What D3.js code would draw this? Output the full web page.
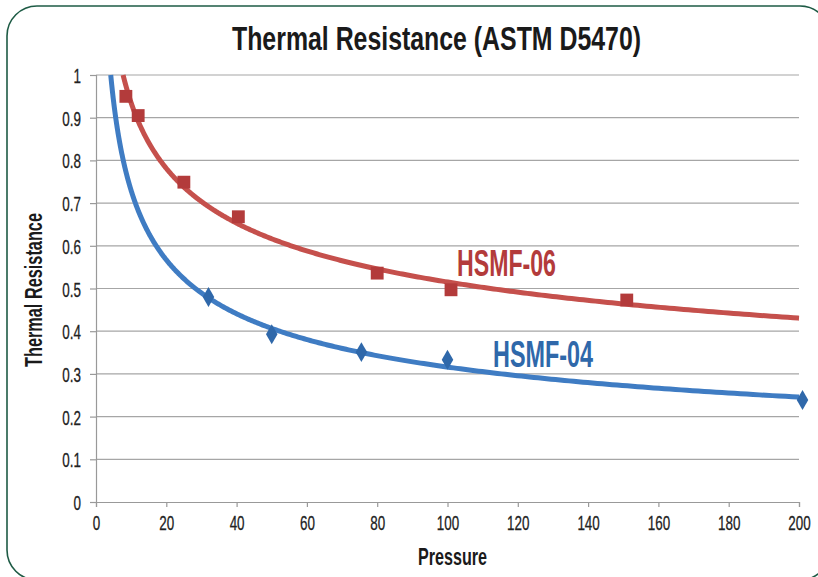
<!DOCTYPE html>
<html>
<head>
<meta charset="utf-8">
<script src="https://cdn.jsdelivr.net/npm/d3@7"></script>
<style>
  body { margin: 0; background: #fff; }
  text { font-family: "Liberation Sans", Arial, sans-serif; }
</style>
</head>
<body>
<div id="chart"></div>
<script>
// data
const seriesNames = ["HSMF-06", "HSMF-04"];
const hsmf06Pressure = [8.5, 12, 25, 40.5, 80, 101, 151];
const hsmf06Resist = [0.95, 0.905, 0.749, 0.668, 0.536, 0.497, 0.473];
const hsmf04Pressure = [32, 50, 75.5, 100, 201];
const hsmf04Resist = [0.48, 0.393, 0.351, 0.333, 0.239];
const xTicks = [0, 20, 40, 60, 80, 100, 120, 140, 160, 180, 200];
const yTicks = [0, 0.1, 0.2, 0.3, 0.4, 0.5, 0.6, 0.7, 0.8, 0.9, 1];

const W = 818, H = 577;
const margin = { top: 75, right: 19, bottom: 75, left: 96 };
const width = W - margin.left - margin.right;
const height = H - margin.top - margin.bottom;
const squeeze = 0.64; // condensed look for tick labels

const svg = d3.select("#chart").append("svg")
    .attr("width", W)
    .attr("height", H);

// frame
svg.append("rect")
    .attr("x", 7).attr("y", 6)
    .attr("width", 823).attr("height", 574)
    .attr("rx", 30).attr("ry", 30)
    .attr("fill", "none")
    .attr("stroke", "#1e5b45")
    .attr("stroke-width", 1.6);

// condensed bold text fitted to a width
function label(parent, txt, x, y, size, len, color, rotate) {
    return parent.append("text")
        .attr("transform", `translate(${x},${y})` + (rotate ? " rotate(-90)" : ""))
        .attr("font-size", size)
        .attr("font-weight", "bold")
        .attr("fill", color)
        .attr("textLength", len)
        .attr("lengthAdjust", "spacingAndGlyphs")
        .text(txt);
}

label(svg, "Thermal Resistance (ASTM D5470)", 232, 50, 33, 409, "#1a1a1a");

const g = svg.append("g").attr("transform", `translate(${margin.left},${margin.top})`);

const x = d3.scaleLinear().domain([0, 200]).range([0, width]);
const y = d3.scaleLinear().domain([0, 1]).range([height, 0]);

// gridlines
g.selectAll(".grid")
    .data(yTicks.filter(d => d > 0))
    .enter().append("line")
    .attr("x1", 0).attr("x2", width)
    .attr("y1", d => y(d)).attr("y2", d => y(d))
    .attr("stroke", "#a6a6a6")
    .attr("stroke-width", 1.2);

// axes
const yAxis = g.append("g")
    .call(d3.axisLeft(y).tickValues(yTicks).tickFormat(d => String(+d.toFixed(1))).tickSize(6));
const xAxis = g.append("g")
    .attr("transform", `translate(0,${height})`)
    .call(d3.axisBottom(x).tickValues(xTicks).tickSize(5).tickPadding(8));

[yAxis, xAxis].forEach(a => {
    a.select(".domain").attr("stroke", "#999").attr("stroke-width", 1.2);
    a.selectAll(".tick line").attr("stroke", "#999").attr("stroke-width", 1.2);
    a.selectAll(".tick text")
        .attr("font-size", 21)
        .attr("fill", "#222")
        .attr("stroke", "#222")
        .attr("stroke-width", 0.3)
        .attr("transform", `scale(${squeeze},1)`);
});
yAxis.selectAll(".tick text").attr("x", -15 / squeeze).attr("dy", "0.36em");

// axis titles
label(svg, "Pressure", 418, 565, 24, 69, "#1a1a1a");
label(svg, "Thermal Resistance", 42, 367, 24, 154, "#1a1a1a", true);

// power-law trendline fitted in log space
function powerFit(xs, ys) {
    const lx = xs.map(Math.log), ly = ys.map(Math.log);
    const mx = d3.mean(lx), my = d3.mean(ly);
    const b = d3.sum(lx, (v, i) => (v - mx) * (ly[i] - my)) / d3.sum(lx, v => (v - mx) * (v - mx));
    const a = Math.exp(my - b * mx);
    return { f: v => a * Math.pow(v, b), a, b };
}

const series = [
    { name: seriesNames[0], xs: hsmf06Pressure, ys: hsmf06Resist, line: "#c5504c", mark: "#b33b3b", shape: d3.symbolSquare, size: 165, lx: 457, ly: 276, len: 99 },
    { name: seriesNames[1], xs: hsmf04Pressure, ys: hsmf04Resist, line: "#3f7cc3", mark: "#2f68aa", shape: d3.symbolDiamond, size: 115, lx: 493, ly: 367, len: 100 }
];

const line = d3.line().x(d => x(d[0])).y(d => y(d[1])).curve(d3.curveBasis);

series.forEach(s => {
    const fit = powerFit(s.xs, s.ys);
    const start = Math.pow(1 / fit.a, 1 / fit.b); // where fit crosses 1
    const pts = d3.range(0, 401).map(i => {
        const v = start * Math.pow(200 / start, i / 400);
        return [v, fit.f(v)];
    });
    g.append("path")
        .datum(pts)
        .attr("fill", "none")
        .attr("stroke", s.line)
        .attr("stroke-width", 5)
        .attr("d", line);

    g.selectAll(null)
        .data(s.xs.map((v, i) => [v, s.ys[i]]))
        .enter().append("path")
        .attr("transform", d => `translate(${x(d[0])},${y(d[1])})`)
        .attr("d", d3.symbol().type(s.shape).size(s.size))
        .attr("fill", s.mark);

    label(svg, s.name, s.lx, s.ly, 36, s.len, s.mark);
});
</script>
</body>
</html>
